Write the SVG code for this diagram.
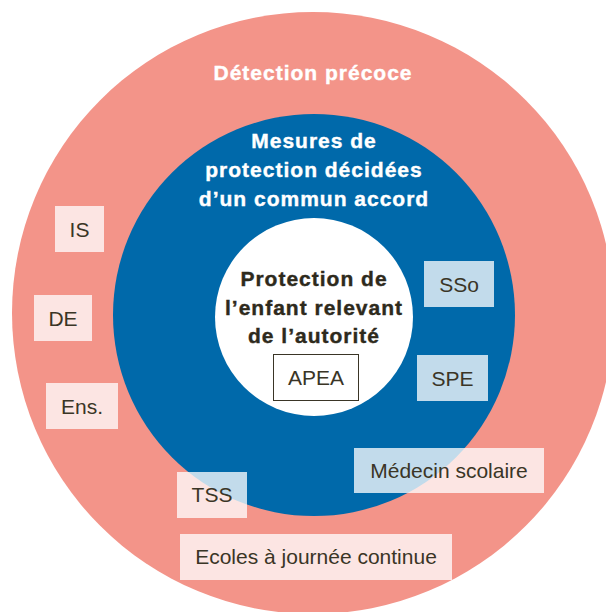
<svg xmlns="http://www.w3.org/2000/svg" width="606" height="612" viewBox="0 0 606 612">
<style>
.title{font-family:"Liberation Sans",Arial,sans-serif;font-weight:bold;font-size:21px;letter-spacing:1px;text-anchor:middle;stroke-width:0.4px}
.w{fill:#ffffff;stroke:#ffffff}
.d{fill:#2e2a1c;stroke:#2e2a1c}
.box{fill:#ffffff;fill-opacity:0.76}
.lbl{font-family:"Liberation Sans",Arial,sans-serif;font-size:21px;fill:#3a3526;text-anchor:middle}
</style>
<rect width="606" height="612" fill="#ffffff"/>
<g id="ring-detection">
<circle cx="313" cy="313" r="301" fill="#f39489"/>
<text class="title w" x="313" y="80">Détection précoce</text>
</g>
<g id="ring-mesures">
<circle cx="314" cy="315" r="201" fill="#0069aa"/>
<text class="title w" x="314" y="148">Mesures de</text>
<text class="title w" x="314" y="177">protection décidées</text>
<text class="title w" x="314" y="206">d’un commun accord</text>
</g>
<g id="core-protection">
<circle cx="314" cy="317" r="99" fill="#ffffff"/>
<text class="title d" x="314" y="286">Protection de</text>
<text class="title d" x="314" y="314.5">l’enfant relevant</text>
<text class="title d" x="314" y="343">de l’autorité</text>
</g>
<g id="node-apea">
<rect x="273.5" y="354.5" width="85" height="46" fill="#ffffff" stroke="#3a3526" stroke-width="1"/>
<text class="lbl" x="316" y="385">APEA</text>
</g>
<g id="node-is">
<rect class="box" x="55" y="206" width="49" height="46"/>
<text class="lbl" x="79.5" y="236.5">IS</text>
</g>
<g id="node-de">
<rect class="box" x="34" y="295" width="58" height="46"/>
<text class="lbl" x="63" y="325.5">DE</text>
</g>
<g id="node-ens">
<rect class="box" x="46" y="383" width="72" height="46"/>
<text class="lbl" x="82" y="413.5">Ens.</text>
</g>
<g id="node-sso">
<rect class="box" x="424" y="261" width="70" height="46"/>
<text class="lbl" x="459" y="291.5">SSo</text>
</g>
<g id="node-spe">
<rect class="box" x="417" y="355" width="71" height="46"/>
<text class="lbl" x="452.5" y="385.5">SPE</text>
</g>
<g id="node-medecin">
<rect class="box" x="354" y="448" width="190" height="45"/>
<text class="lbl" x="449" y="478">Médecin scolaire</text>
</g>
<g id="node-tss">
<rect class="box" x="177" y="472" width="70" height="46"/>
<text class="lbl" x="212" y="502">TSS</text>
</g>
<g id="node-ecoles">
<rect class="box" x="180" y="534" width="272" height="46"/>
<text class="lbl" x="316" y="564">Ecoles à journée continue</text>
</g>
<g id="connectors"/>
</svg>
